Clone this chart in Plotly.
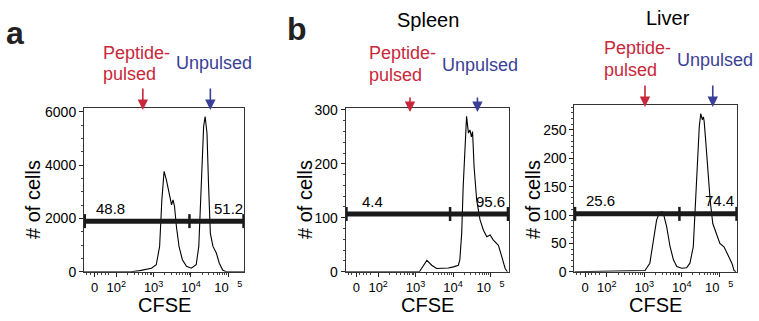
import numpy as np
import plotly.graph_objects as go

# ---------------- data (x in log10 CFSE display units) ----------------
a_x = [1.133, 2.40, 2.63, 2.94, 3.07, 3.16, 3.22, 3.28, 3.34, 3.43, 3.48, 3.52, 3.56, 3.61, 3.68, 3.77,
       3.88, 4.01, 4.14, 4.21, 4.26, 4.29, 4.34, 4.38, 4.43, 4.47, 4.52, 4.59, 4.68, 4.76, 4.85, 4.94, 5.43]
a_y = [0, 0, 40, 130, 260, 950, 2700, 3770, 3460, 2830, 2510, 2700, 2450, 1700, 950, 450,
       200, 130, 260, 950, 2700, 4200, 5460, 5830, 5200, 3320, 1440, 950, 700, 320, 60, 0, 0]

b_x = [1.133, 3.10, 3.30, 3.43, 3.56, 3.74, 3.87, 4.01, 4.14, 4.18, 4.23, 4.27, 4.32, 4.36, 4.41,
       4.45, 4.49, 4.52, 4.56, 4.63, 4.72, 4.81, 4.90, 4.99, 5.07, 5.17, 5.21, 5.30, 5.39, 5.45]
b_y = [0, 0, 21, 12, 6, 6, 7, 9, 12, 22, 71, 158, 226, 288, 257,
       263, 250, 260, 195, 133, 96, 77, 65, 68, 59, 53, 49, 28, 6, 0]

c_x = [1.133, 3.02, 3.15, 3.24, 3.33, 3.40, 3.47, 3.51, 3.60, 3.69, 3.78, 3.87, 4.00, 4.13, 4.22, 4.31,
       4.37, 4.43, 4.47, 4.51, 4.55, 4.58, 4.60, 4.64, 4.70, 4.76, 4.83, 4.92, 5.02, 5.13, 5.25, 5.34, 5.40, 5.45]
c_y = [0, 2, 15, 56, 91, 103, 106, 103, 79, 44, 21, 9, 6, 7, 15, 44,
       115, 197, 256, 279, 268, 273, 265, 232, 173, 126, 85, 68, 50, 44, 26, 15, 2, 0]

gate_y = [1900, 107, 102]
gate_split = [3.96, 3.92, 3.94]
gate_left_labels = ["48.8", "4.4", "25.6"]
gate_right_labels = ["51.2", "95.6", "74.4"]
peptide_arrow_x = [2.71, 2.85, 3.02]
unpulsed_arrow_x = [4.52, 4.65, 4.83]

x_tickvals = [1.42, 2, 3, 4, 5]
x_ticktext = ["0", "10<sup>2</sup>", "10<sup>3</sup>", "10<sup>4</sup>", "10\u00a0<sup>\u00a0\u00a05</sup>"]
y_dticks = [2000, 100, 50]
y_minor = [500, 20, 10]

RED = "#c8283a"
BLUE = "#3a3f97"
FONT = "Liberation Sans, Arial, sans-serif"
W, H = 759, 321

def px(x):
    return x / W

def py(y):
    return 1 - y / H

# layout geometry (pixels)
lefts = [84, 345.7, 574.3]
rights = [244.3, 508.7, 737.3]
tops = [108, 108.3, 105]
bottom = 271.7
x_ranges = [[1.133, 5.43], [1.133, 5.485], [1.133, 5.485]]
y_ranges = [[0, 6150], [0, 303], [0, 294]]

minor_x = [float(np.log10(m * 10 ** k)) for k in (2, 3, 4) for m in range(2, 10)] + \
          [1.2, 1.3, 1.5, 1.6, 1.7, 1.8]

fig = go.Figure()
series = [(a_x, a_y), (b_x, b_y), (c_x, c_y)]
annotations = []

def txt(x, y, text, size, color="black", xanchor="center", angle=0):
    return dict(x=px(x), y=py(y), xref="paper", yref="paper", text=text, showarrow=False,
                xanchor=xanchor, yanchor="middle", textangle=angle,
                font=dict(size=size, color=color, family=FONT))

for i in range(3):
    xa = "x" if i == 0 else f"x{i+1}"
    ya = "y" if i == 0 else f"y{i+1}"
    sx, sy = series[i]
    fig.add_trace(go.Scatter(x=sx, y=sy, mode="lines", line=dict(color="black", width=1.1),
                             xaxis=xa, yaxis=ya, showlegend=False, hoverinfo="skip"))
    lo, hi = x_ranges[i]
    g = gate_y[i]
    fig.add_trace(go.Scatter(x=[lo, hi], y=[g, g], mode="lines",
                             line=dict(color="#1a1a1a", width=5),
                             xaxis=xa, yaxis=ya, showlegend=False, hoverinfo="skip"))
    fig.add_trace(go.Scatter(x=[lo + 0.02, gate_split[i], hi - 0.02], y=[g, g, g], mode="markers",
                             marker=dict(symbol="line-ns", size=10, line=dict(color="#1a1a1a", width=2.5)),
                             xaxis=xa, yaxis=ya, showlegend=False, hoverinfo="skip", cliponaxis=False))
    annotations.append(dict(x=1.84, y=g, xref=xa, yref=ya, text=gate_left_labels[i], showarrow=False,
                            xanchor="center", yanchor="middle",
                            yshift=13, font=dict(size=15, color="black", family=FONT)))
    annotations.append(dict(x=5.0, y=g, xref=xa, yref=ya, text=gate_right_labels[i], showarrow=False,
                            xanchor="center", yanchor="middle",
                            yshift=13, font=dict(size=15, color="black", family=FONT)))

    fig.update_layout(**{
        ("xaxis" if i == 0 else f"xaxis{i+1}"): dict(
            domain=[px(lefts[i]), px(rights[i])], anchor=ya, range=x_ranges[i],
            tickmode="array", tickvals=x_tickvals, ticktext=x_ticktext,
            ticks="outside", ticklen=4, tickcolor="#222", tickwidth=1,
            showline=True, linecolor="#333", linewidth=1, mirror=True,
            showgrid=False, zeroline=False, automargin=False,
            tickfont=dict(size=13, color="black", family=FONT),
            minor=dict(tickmode="array", tickvals=minor_x, ticks="outside", ticklen=2, tickcolor="#444"),
        ),
        ("yaxis" if i == 0 else f"yaxis{i+1}"): dict(
            domain=[py(bottom), py(tops[i])], anchor=xa, range=y_ranges[i],
            dtick=y_dticks[i], tick0=0,
            ticks="outside", ticklen=4, tickcolor="#222", tickwidth=1,
            showline=True, linecolor="#333", linewidth=1, mirror=True,
            showgrid=False, zeroline=False, automargin=False,
            tickfont=dict(size=14, color="black", family=FONT),
            minor=dict(dtick=y_minor[i], ticks="outside", ticklen=2, tickcolor="#444"),
        ),
    })

# axis titles
ytitle_x = [33, 305, 533]
for i in range(3):
    cx = (lefts[i] + rights[i]) / 2
    annotations.append(txt(cx, 305, "CFSE", 20))
    annotations.append(txt(ytitle_x[i], 200, "# of cells", 20, angle=-90))

# red / blue labels & arrows
pep_left = [101, 367, 602]
pep_y1 = [53, 53, 48]
pep_y2 = [74, 75, 70]
unp_cx = [214, 480, 714.5]
unp_y = [63, 65, 60]
arrow_top = [87, 96, 84]
arrow_tip = [110, 112, 107]
for i in range(3):
    xa = "x" if i == 0 else f"x{i+1}"
    annotations.append(txt(pep_left[i], pep_y1[i], "Peptide-", 18, RED, xanchor="left"))
    annotations.append(txt(pep_left[i], pep_y2[i], "pulsed", 18, RED, xanchor="left"))
    annotations.append(txt(unp_cx[i], unp_y[i], "Unpulsed", 18, BLUE))
    for ax_val, col in ((peptide_arrow_x[i], RED), (unpulsed_arrow_x[i], BLUE)):
        annotations.append(dict(x=ax_val, y=py(arrow_tip[i]), xref=xa, yref="paper", text="",
                                showarrow=True, ax=0, ay=-(arrow_tip[i] - arrow_top[i]),
                                arrowhead=2, arrowsize=1.3, arrowwidth=1.6, arrowcolor=col))

# panel titles & letters
annotations.append(txt(428, 20, "Spleen", 20))
annotations.append(txt(668, 18, "Liver", 20))
annotations.append(txt(15, 33, "<b>a</b>", 32, "#222"))
annotations.append(txt(297, 29, "<b>b</b>", 32, "#222"))

fig.update_layout(width=W, height=H, margin=dict(l=0, r=0, t=0, b=0, autoexpand=False),
                  paper_bgcolor="white", plot_bgcolor="white",
                  annotations=annotations, showlegend=False)

fig.write_html("out.html")
